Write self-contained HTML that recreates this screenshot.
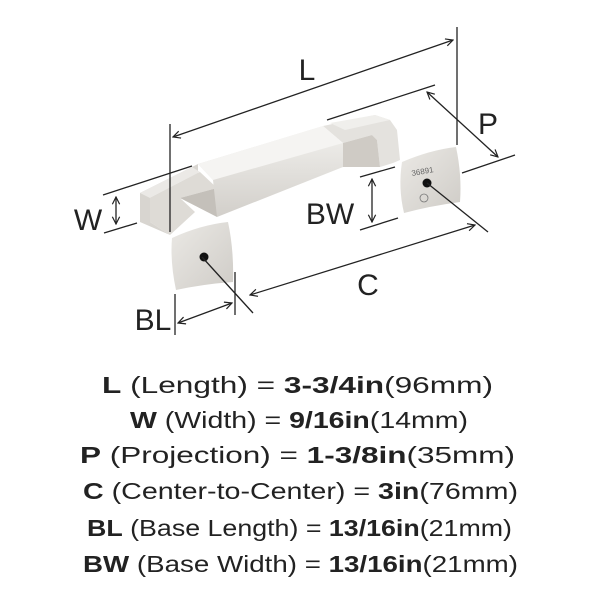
<!DOCTYPE html>
<html><head><meta charset="utf-8"><style>
html,body{margin:0;padding:0;background:#fff;width:600px;height:600px;overflow:hidden}
svg{display:block}
text{font-family:"Liberation Sans",sans-serif;fill:#222}
</style></head><body>
<svg width="600" height="600" viewBox="0 0 600 600" xmlns="http://www.w3.org/2000/svg">
<defs>
<linearGradient id="g1" x1="0" y1="0" x2="0" y2="1"><stop offset="0" stop-color="#f2f1ee"/><stop offset="1" stop-color="#d2cfca"/></linearGradient>
<linearGradient id="g2" x1="0" y1="0" x2="1" y2="1"><stop offset="0" stop-color="#ebe9e5"/><stop offset="1" stop-color="#cfccc7"/></linearGradient>
<marker id="ah" viewBox="0 0 10 10" refX="9" refY="5" markerWidth="7" markerHeight="7" orient="auto-start-reverse"><path d="M1,1 L9,5 L1,9" fill="none" stroke="#222" stroke-width="1.3"/></marker>
</defs>
<!-- left arm + leg -->
<polygon points="140,193 198,164 198,178 150,200 150,222 170,235 140,222" fill="#d8d5d0"/>
<polygon points="140,193 192,167 200,172 150,198" fill="#ebe9e6"/>
<polygon points="150,198 200,172 217,188 180,198 195,212 170,235 150,222" fill="#dedbd6"/>
<polygon points="180,198 217,188 217,217" fill="#c4c0ba"/>
<!-- right arm + leg -->
<polygon points="323,126 375,115 390,120 397,130 400,160 393,163 380,167 377,140 372,135 343,143" fill="#e4e2de"/>
<polygon points="330,123 375,115 390,120 345,130" fill="#f0efec"/>
<polygon points="343,143 372,135 377,140 380,167 343,167" fill="#cfcbc5"/>
<!-- center bar -->
<polygon points="198,164 323,126 343,143 343,167 217,217 213,180" fill="url(#g1)"/>
<polygon points="198,164 323,126 343,143 213,180" fill="#f5f4f2"/>
<!-- left base -->
<path d="M172,238 Q200,225 228,222 Q234,250 233,282 Q204,284 176,290 Q170,262 172,238Z" fill="url(#g2)"/>
<circle cx="204" cy="257" r="4.5" fill="#111"/>
<!-- right base -->
<path d="M402,162 Q430,150 456,147 Q462,175 460,202 Q430,206 404,213 Q398,188 402,162Z" fill="url(#g2)"/>
<circle cx="427" cy="183" r="4.5" fill="#111"/>
<text x="412" y="176" font-size="8" transform="rotate(-10 412 176)" style="fill:#666">36891</text>
<circle cx="424" cy="198" r="4" fill="none" stroke="#777" stroke-width="0.8"/>
<g stroke="#222" stroke-width="1.3" fill="none">
<line x1="173" y1="137" x2="453" y2="40" marker-start="url(#ah)" marker-end="url(#ah)"/>
<line x1="457" y1="27" x2="457" y2="145"/>
<line x1="170" y1="124" x2="170" y2="232"/>
<line x1="427" y1="92" x2="498" y2="157" marker-start="url(#ah)" marker-end="url(#ah)"/>
<line x1="327" y1="120" x2="435" y2="85"/>
<line x1="462" y1="173" x2="515" y2="155"/>
<line x1="116" y1="197" x2="116" y2="224" marker-start="url(#ah)" marker-end="url(#ah)"/>
<line x1="103" y1="195" x2="192" y2="166"/>
<line x1="104" y1="233" x2="137" y2="223"/>
<line x1="372" y1="179" x2="372" y2="222" marker-start="url(#ah)" marker-end="url(#ah)"/>
<line x1="360" y1="177" x2="395" y2="167"/>
<line x1="360" y1="230" x2="398" y2="218"/>
<line x1="250" y1="295" x2="475" y2="225" marker-start="url(#ah)" marker-end="url(#ah)"/>
<line x1="427" y1="183" x2="488" y2="232"/>
<line x1="202" y1="257" x2="253" y2="313"/>
<line x1="235" y1="272" x2="235" y2="315"/>
<line x1="178" y1="323" x2="232" y2="303" marker-start="url(#ah)" marker-end="url(#ah)"/>
<line x1="175" y1="294" x2="175" y2="335"/>
</g>
<g font-size="30">
<text x="307" y="80" text-anchor="middle">L</text>
<text x="488" y="134" text-anchor="middle">P</text>
<text x="88" y="230" text-anchor="middle">W</text>
<text x="330" y="224" text-anchor="middle">BW</text>
<text x="368" y="295" text-anchor="middle">C</text>
<text x="153" y="330" text-anchor="middle">BL</text>
</g>
<g font-size="23">
<text x="102" y="393" textLength="391" lengthAdjust="spacingAndGlyphs"><tspan font-weight="bold">L</tspan> (Length) = <tspan font-weight="bold">3-3/4in</tspan>(96mm)</text>
<text x="130" y="428" textLength="338" lengthAdjust="spacingAndGlyphs"><tspan font-weight="bold">W</tspan> (Width) = <tspan font-weight="bold">9/16in</tspan>(14mm)</text>
<text x="80" y="463" textLength="435" lengthAdjust="spacingAndGlyphs"><tspan font-weight="bold">P</tspan> (Projection) = <tspan font-weight="bold">1-3/8in</tspan>(35mm)</text>
<text x="83" y="499" textLength="435" lengthAdjust="spacingAndGlyphs"><tspan font-weight="bold">C</tspan> (Center-to-Center) = <tspan font-weight="bold">3in</tspan>(76mm)</text>
<text x="87" y="536" textLength="425" lengthAdjust="spacingAndGlyphs"><tspan font-weight="bold">BL</tspan> (Base Length) = <tspan font-weight="bold">13/16in</tspan>(21mm)</text>
<text x="83" y="572" textLength="435" lengthAdjust="spacingAndGlyphs"><tspan font-weight="bold">BW</tspan> (Base Width) = <tspan font-weight="bold">13/16in</tspan>(21mm)</text>
</g>
</svg>
</body></html>
